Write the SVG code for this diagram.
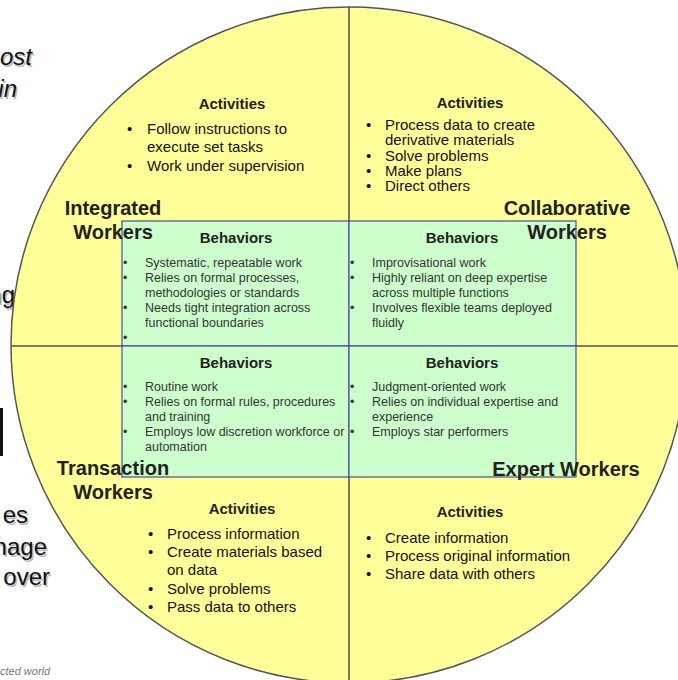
<svg xmlns="http://www.w3.org/2000/svg" width="678" height="680" viewBox="0 0 678 680">
<style>
.frag{font-family:"Liberation Sans",Arial,sans-serif;font-size:24px;fill:#111;text-anchor:end}
.fragsh{font-family:"Liberation Sans",Arial,sans-serif;font-size:24px;fill:#bbb;text-anchor:end}
.it{font-style:italic}
.head{font-family:"Liberation Sans",Arial,sans-serif;font-size:15px;font-weight:bold;fill:#222;text-anchor:middle}
.act{font-family:"Liberation Sans",Arial,sans-serif;font-size:15px;fill:#111}
.beh{font-family:"Liberation Sans",Arial,sans-serif;font-size:12.5px;fill:#333}
.lab{font-family:"Liberation Sans",Arial,sans-serif;font-size:20px;font-weight:bold;fill:#222;text-anchor:middle}
.quad{fill:#ccffcc;stroke:#4a4a99;stroke-width:1.2}
</style>
<rect width="678" height="680" fill="#ffffff"/>
<g id="slide-fragments">
<text class="fragsh it" x="33.5" y="66.5">ost</text><text class="frag it" x="32" y="65">ost</text>
<text class="fragsh it" x="18.5" y="98.5">in</text><text class="frag it" x="17" y="97">in</text>
<text class="fragsh" x="16.5" y="304.5">ng</text><text class="frag" x="15" y="303">ng</text>
<rect x="0" y="408" width="3" height="48" fill="#111"/>
<text class="fragsh" x="29.5" y="524.5">es</text><text class="frag" x="28" y="523">es</text>
<text class="fragsh" x="48.5" y="556.5">nage</text><text class="frag" x="47" y="555">nage</text>
<text class="fragsh" x="51.5" y="586.5">over</text><text class="frag" x="50" y="585">over</text>
<text x="0" y="675" font-family="Liberation Sans, Arial, sans-serif" font-size="11" font-style="italic" fill="#777">cted world</text>
</g>
<g id="circle">
<circle cx="349" cy="345" r="338" fill="#ffff99" stroke="#555" stroke-width="1.5"/>
</g>
<g id="connectors">
<line x1="349" y1="7" x2="349" y2="684" stroke="#333" stroke-width="1.3"/>
<line x1="11" y1="346" x2="688" y2="346" stroke="#555" stroke-width="1.3"/>
</g>
<g id="behaviors-boxes">
<rect class="quad" x="122" y="221" width="227" height="125"/>
<rect class="quad" x="349" y="221" width="227" height="125"/>
<rect class="quad" x="122" y="346" width="227" height="131"/>
<rect class="quad" x="349" y="346" width="227" height="131"/>
</g>
<g id="integrated-activities">
<text class="head" x="232" y="109">Activities</text>
<text class="act" x="127" y="134">•</text><text class="act" x="147" y="134">Follow instructions to</text>
<text class="act" x="147" y="152">execute set tasks</text>
<text class="act" x="127" y="171">•</text><text class="act" x="147" y="171">Work under supervision</text>
</g>
<g id="collaborative-activities">
<text class="head" x="470" y="108">Activities</text>
<text class="act" x="366" y="130">•</text><text class="act" x="385" y="130">Process data to create</text>
<text class="act" x="385" y="145">derivative materials</text>
<text class="act" x="366" y="161">•</text><text class="act" x="385" y="161">Solve problems</text>
<text class="act" x="366" y="176">•</text><text class="act" x="385" y="176">Make plans</text>
<text class="act" x="366" y="191">•</text><text class="act" x="385" y="191">Direct others</text>
</g>
<g id="integrated-behaviors">
<text class="head" x="236" y="243">Behaviors</text>
<text class="beh" x="123" y="267">•</text><text class="beh" x="145" y="267">Systematic, repeatable work</text>
<text class="beh" x="123" y="282">•</text><text class="beh" x="145" y="282">Relies on formal processes,</text>
<text class="beh" x="145" y="297">methodologies or standards</text>
<text class="beh" x="123" y="312">•</text><text class="beh" x="145" y="312">Needs tight integration across</text>
<text class="beh" x="145" y="327">functional boundaries</text>
<text class="beh" x="123" y="342">•</text>
</g>
<g id="collaborative-behaviors">
<text class="head" x="462" y="243">Behaviors</text>
<text class="beh" x="350" y="267">•</text><text class="beh" x="372" y="267">Improvisational work</text>
<text class="beh" x="350" y="282">•</text><text class="beh" x="372" y="282">Highly reliant on deep expertise</text>
<text class="beh" x="372" y="297">across multiple functions</text>
<text class="beh" x="350" y="312">•</text><text class="beh" x="372" y="312">Involves flexible teams deployed</text>
<text class="beh" x="372" y="327">fluidly</text>
</g>
<g id="transaction-behaviors">
<text class="head" x="236" y="368">Behaviors</text>
<text class="beh" x="123" y="391">•</text><text class="beh" x="145" y="391">Routine work</text>
<text class="beh" x="123" y="406">•</text><text class="beh" x="145" y="406">Relies on formal rules, procedures</text>
<text class="beh" x="145" y="421">and training</text>
<text class="beh" x="123" y="436">•</text><text class="beh" x="145" y="436">Employs low discretion workforce or</text>
<text class="beh" x="145" y="451">automation</text>
</g>
<g id="expert-behaviors">
<text class="head" x="462" y="368">Behaviors</text>
<text class="beh" x="350" y="391">•</text><text class="beh" x="372" y="391">Judgment-oriented work</text>
<text class="beh" x="350" y="406">•</text><text class="beh" x="372" y="406">Relies on individual expertise and</text>
<text class="beh" x="372" y="421">experience</text>
<text class="beh" x="350" y="436">•</text><text class="beh" x="372" y="436">Employs star performers</text>
</g>
<g id="transaction-activities">
<text class="head" x="242" y="514">Activities</text>
<text class="act" x="148" y="539">•</text><text class="act" x="167" y="539">Process information</text>
<text class="act" x="148" y="557">•</text><text class="act" x="167" y="557">Create materials based</text>
<text class="act" x="167" y="575">on data</text>
<text class="act" x="148" y="594">•</text><text class="act" x="167" y="594">Solve problems</text>
<text class="act" x="148" y="612">•</text><text class="act" x="167" y="612">Pass data to others</text>
</g>
<g id="expert-activities">
<text class="head" x="470" y="517">Activities</text>
<text class="act" x="366" y="543">•</text><text class="act" x="385" y="543">Create information</text>
<text class="act" x="366" y="561">•</text><text class="act" x="385" y="561">Process original information</text>
<text class="act" x="366" y="579">•</text><text class="act" x="385" y="579">Share data with others</text>
</g>
<g id="integrated-workers">
<text class="lab" x="113" y="215">Integrated</text>
<text class="lab" x="113" y="239">Workers</text>
</g>
<g id="collaborative-workers">
<text class="lab" x="567" y="215">Collaborative</text>
<text class="lab" x="567" y="239">Workers</text>
</g>
<g id="transaction-workers">
<text class="lab" x="113" y="475">Transaction</text>
<text class="lab" x="113" y="499">Workers</text>
</g>
<g id="expert-workers">
<text class="lab" x="566" y="476">Expert Workers</text>
</g>
</svg>
